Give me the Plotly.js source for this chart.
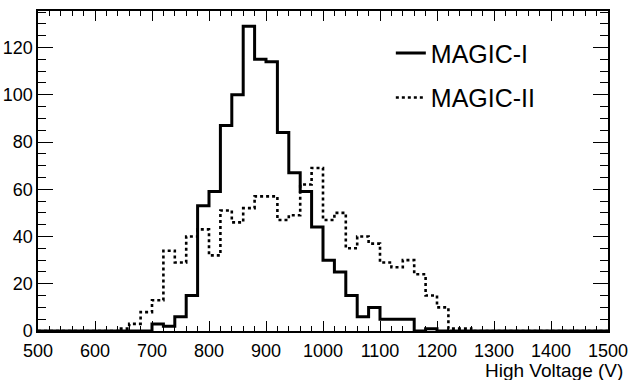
<!DOCTYPE html>
<html>
<head>
<meta charset="utf-8">
<script src="https://cdn.plot.ly/plotly-3.0.1.min.js"></script>
<style>
  html, body { margin: 0; padding: 0; background: #fff; }
  #chart { width: 635px; height: 380px; }
</style>
</head>
<body>
<div id="chart"></div>
<script>
// Histogram bin definition: 20 V bins from 500 V to 1500 V
const binStart = 500;
const binWidth = 20;

// MAGIC-I counts per bin (500-520, 520-540, ... 1480-1500)
const magic1 = [
  0, 0, 0, 0, 0, 0, 0, 0, 0, 0,          // 500-700
  3, 2, 6, 15, 53, 59, 87, 100, 129, 115, // 700-900
  114, 84, 67, 59, 44, 30, 25, 15, 6, 10, // 900-1100
  5, 5, 5, 0, 1, 0, 0, 0, 0, 0,           // 1100-1300
  0, 0, 0, 0, 0, 0, 0, 0, 0, 0            // 1300-1500
];

// MAGIC-II counts per bin
const magic2 = [
  0, 0, 0, 0, 0, 0, 0, 1, 3, 8,           // 500-700
  13, 34, 29, 40, 43, 32, 51, 46, 52, 57, // 700-900
  57, 47, 49, 62, 69, 47, 50, 35, 40, 37, // 900-1100
  29, 27, 30, 24, 15, 10, 1, 1, 0, 0,     // 1100-1300
  0, 0, 0, 0, 0, 0, 0, 0, 0, 0            // 1300-1500
];

const seriesNames = ["MAGIC-I", "MAGIC-II"];
const xTickVals = [500, 600, 700, 800, 900, 1000, 1100, 1200, 1300, 1400, 1500];
const yTickVals = [0, 20, 40, 60, 80, 100, 120];
const xTitle = "High Voltage (V)";

// Build step outlines (left edges + final right edge)
function stepXY(counts) {
  const xs = [], ys = [];
  for (let i = 0; i < counts.length; i++) {
    xs.push(binStart + i * binWidth);
    ys.push(counts[i]);
  }
  xs.push(binStart + counts.length * binWidth);
  ys.push(counts[counts.length - 1]);
  return { xs, ys };
}

const s1 = stepXY(magic1);
const s2 = stepXY(magic2);
const ymax = Math.max(...magic1, ...magic2) * 1.05;

const FONT = "Liberation Sans, Arial, Helvetica, sans-serif";

const traces = [
  {
    x: s2.xs, y: s2.ys, type: "scatter", mode: "lines",
    line: { shape: "hv", color: "#000", width: 2.6, dash: "dot" },
    name: seriesNames[1], legendgroup: "b", legendrank: 2
  },
  {
    x: s1.xs, y: s1.ys, type: "scatter", mode: "lines",
    line: { shape: "hv", color: "#000", width: 3 },
    name: seriesNames[0], legendgroup: "a", legendrank: 1
  }
];

const layout = {
  width: 635, height: 380,
  margin: { l: 38, r: 27, t: 11, b: 49, pad: 0 },
  paper_bgcolor: "#fff", plot_bgcolor: "#fff",
  font: { family: FONT, color: "#000", size: 18 },
  showlegend: true,
  legend: {
    x: 0.619, y: 0.94, xanchor: "left", yanchor: "top",
    bgcolor: "rgba(0,0,0,0)", borderwidth: 0,
    font: { family: FONT, size: 25, color: "#000" },
    tracegroupgap: 9, traceorder: "grouped"
  },
  xaxis: {
    range: [500, 1500], tickvals: xTickVals,
    ticks: "inside", ticklen: 10, tickwidth: 1, tickcolor: "#000",
    minor: { dtick: 20, tick0: 500, ticks: "inside", ticklen: 5, tickwidth: 1, tickcolor: "#000", showgrid: false },
    showline: true, linecolor: "#000", linewidth: 1.6, mirror: "allticks",
    showgrid: false, zeroline: false, ticklabelstandoff: 3,
    tickfont: { family: FONT, size: 18, color: "#000" }
  },
  yaxis: {
    range: [0, ymax], tickvals: yTickVals,
    ticks: "inside", ticklen: 15, tickwidth: 1, tickcolor: "#000",
    minor: { dtick: 5, tick0: 0, ticks: "inside", ticklen: 8, tickwidth: 1, tickcolor: "#000", showgrid: false },
    showline: true, linecolor: "#000", linewidth: 1.6, mirror: "allticks",
    showgrid: false, zeroline: false,
    tickfont: { family: FONT, size: 18, color: "#000" }
  },
  annotations: [
    {
      text: xTitle, xref: "paper", yref: "paper",
      x: 1.03, y: 0, xanchor: "right", yanchor: "top", yshift: -27,
      showarrow: false, font: { family: FONT, size: 19, color: "#000" }
    }
  ]
};

Plotly.newPlot("chart", traces, layout, { displayModeBar: false, staticPlot: true });
</script>
</body>
</html>
